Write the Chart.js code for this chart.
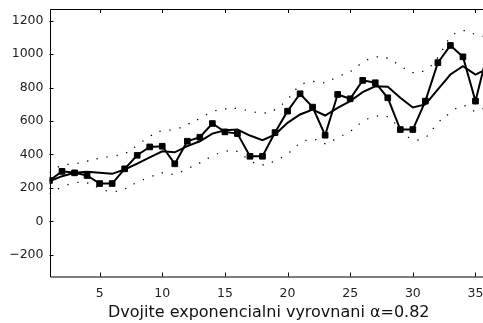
<!DOCTYPE html>
<html>
<head>
<meta charset="utf-8">
<script src="https://cdn.jsdelivr.net/npm/chart.js@4.4.1/dist/chart.umd.min.js"></script>
<style>
html, body { margin: 0; padding: 0; background: #fff; overflow: hidden; }
#wrap { position: absolute; left: 0; top: 0; width: 493px; height: 323px; }
</style>
</head>
<body>
<div id="wrap"><canvas id="chart" width="493" height="323"></canvas></div>
<script>
// period index (x axis)
const periods = [1, 2, 3, 4, 5, 6, 7, 8, 9, 10, 11, 12, 13, 14, 15, 16, 17, 18,
                 19, 20, 21, 22, 23, 24, 25, 26, 27, 28, 29, 30, 31, 32, 33, 34, 35, 36];

// observed series (square markers)
const observed = [244, 299, 290, 274, 226, 226, 314, 395, 445, 449, 344, 479, 503, 585, 535, 525, 389, 389,
                  531, 659, 763, 683, 515, 759, 733, 843, 829, 739, 549, 549, 719, 949, 1052, 984, 719, 1020];

// double exponential smoothing, alpha = 0.82
const smoothed = [240, 270, 291, 297, 290, 284, 310, 345, 383, 419, 413, 450, 479, 525, 545, 549, 513, 485,
                  519, 589, 639, 669, 633, 679, 719, 773, 808, 805, 739, 681, 699, 789, 878, 928, 878, 915];

// dotted bounds
const upper = [290, 335, 344, 360, 378, 390, 405, 455, 508, 543, 548, 580, 615, 656, 672, 675, 660, 647,
               668, 730, 812, 836, 830, 866, 895, 950, 982, 975, 930, 890, 905, 980, 1100, 1140, 1118, 1100];
const lower = [165, 205, 230, 230, 198, 178, 194, 234, 264, 290, 282, 315, 350, 390, 418, 418, 363, 338,
               362, 404, 465, 493, 465, 500, 539, 596, 628, 625, 550, 490, 502, 590, 649, 692, 659, 690];

const yTicks = [-200, 0, 200, 400, 600, 800, 1000, 1200];
const xTicks = [5, 10, 15, 20, 25, 30, 35];
const xTitle = 'Dvojite exponencialni vyrovnani \u03b1=0.82';

const FONT = 'DejaVu Sans, Verdana, sans-serif';

function pts(arr) {
    return periods.map((p, i) => ({ x: p, y: arr[i] }));
}

// MATLAB-like box with inward ticks
const boxPlugin = {
    id: 'boxPlugin',
    afterDraw(chart) {
        const { ctx, chartArea: a, scales: { x, y } } = chart;
        ctx.save();
        ctx.strokeStyle = '#000';
        ctx.lineWidth = 1;
        ctx.beginPath();
        ctx.rect(Math.round(a.left) + 0.5, Math.round(a.top) + 0.5, a.right - a.left, a.bottom - a.top);
        xTicks.forEach(v => {
            const px = Math.round(x.getPixelForValue(v)) + 0.5;
            ctx.moveTo(px, a.bottom); ctx.lineTo(px, a.bottom - 4);
            ctx.moveTo(px, a.top); ctx.lineTo(px, a.top + 4);
        });
        yTicks.forEach(v => {
            const py = Math.round(y.getPixelForValue(v)) + 0.5;
            ctx.moveTo(a.left, py); ctx.lineTo(a.left + 4, py);
        });
        ctx.stroke();
        ctx.restore();
    }
};

const ctx = document.getElementById('chart').getContext('2d');
new Chart(ctx, {
    type: 'line',
    data: {
        datasets: [
            {
                label: 'upper',
                data: pts(upper),
                borderColor: '#000',
                borderWidth: 1.3,
                borderDash: [1.3, 8.7],
                pointRadius: 0,
                tension: 0.4,
                fill: false
            },
            {
                label: 'lower',
                data: pts(lower),
                borderColor: '#000',
                borderWidth: 1.3,
                borderDash: [1.3, 8.7],
                pointRadius: 0,
                tension: 0.4,
                fill: false
            },
            {
                label: 'smoothed',
                data: pts(smoothed),
                borderColor: '#000',
                borderWidth: 2,
                pointRadius: 0,
                tension: 0,
                fill: false
            },
            {
                label: 'observed',
                data: pts(observed),
                borderColor: '#000',
                backgroundColor: '#000',
                borderWidth: 2,
                pointStyle: 'rect',
                pointRadius: 4,
                pointBorderWidth: 1,
                tension: 0,
                fill: false
            }
        ]
    },
    options: {
        responsive: false,
        animation: false,
        devicePixelRatio: 1,
        layout: { padding: { left: 0, top: 9, right: 0, bottom: 0 } },
        plugins: { legend: { display: false }, tooltip: { enabled: false } },
        scales: {
            x: {
                type: 'linear',
                min: 1,
                max: 36,
                afterFit: s => { s.height = 46.5; s.paddingLeft = 0; s.paddingRight = 0; },
                afterBuildTicks: s => { s.ticks = xTicks.map(v => ({ value: v })); },
                grid: { display: false, drawTicks: false },
                border: { display: false },
                ticks: {
                    padding: 10,
                    color: '#222',
                    font: { family: FONT, size: 12.5 },
                    maxRotation: 0
                },
                title: {
                    display: true,
                    text: xTitle,
                    color: '#111',
                    font: { family: FONT, size: 16 },
                    padding: { top: 0, bottom: 1 }
                }
            },
            y: {
                type: 'linear',
                min: -330,
                max: 1270,
                afterFit: s => { s.width = 49.5; s.paddingTop = 0; s.paddingBottom = 0; },
                afterBuildTicks: s => { s.ticks = yTicks.map(v => ({ value: v })); },
                grid: { display: false, drawTicks: false },
                border: { display: false },
                ticks: {
                    padding: 6,
                    color: '#222',
                    font: { family: FONT, size: 12.5 },
                    callback: v => String(v).replace('-', '\u2212')
                }
            }
        }
    },
    plugins: [boxPlugin]
});
</script>
</body>
</html>
